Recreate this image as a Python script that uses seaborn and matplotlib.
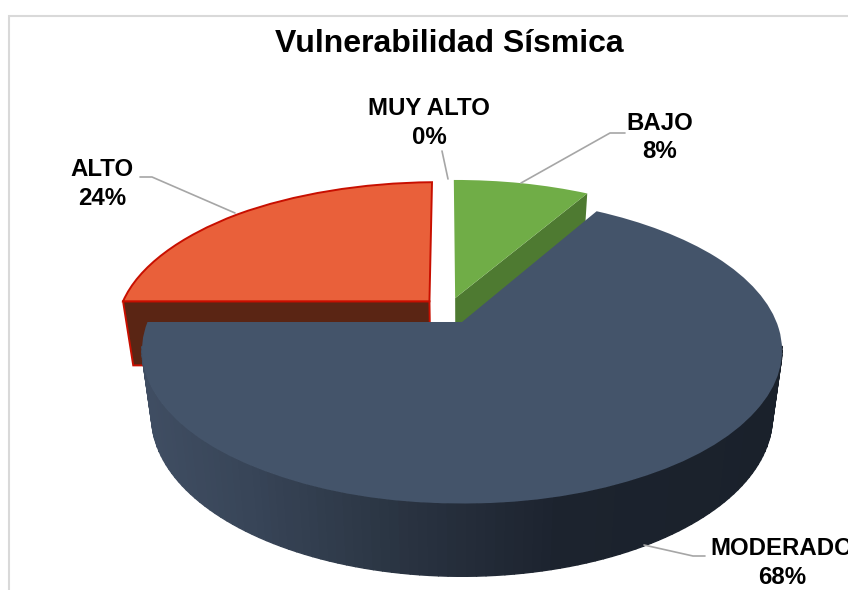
import numpy as np
import matplotlib
matplotlib.use("Agg")
import matplotlib.pyplot as plt
import matplotlib.transforms as mtrans
from matplotlib.collections import PolyCollection
from matplotlib.colors import to_rgb
import seaborn as sns

# ---- data ----
categories = ["BAJO", "MODERADO", "ALTO", "MUY ALTO"]
shares = [8, 68, 24, 0]
share_labels = ["8%", "68%", "24%", "0%"]
title = "Vulnerabilidad Sísmica"

# ---- styles ----
top_colors = ["#70ad47", "#44546a", "#e9603a", "#a5a5a5"]
wall_colors = ["#4e7a31", "#1c232e", "#5a2514", "#a5a5a5"]
edge_red = "#c80f00"
leader_color = "#a6a6a6"
grad_x = [145, 250, 400, 560, 780]
grad_c = ["#404e63", "#384558", "#2a3442", "#1c232e", "#1a212b"]

# ---- view (perspective of the pie disc, in pixel-like axes units) ----
CX, CY, RX, RY, K = 462.0, 322.0, 314.5, 148.0, 0.1842
WARP = np.radians(3.1)
EXPLODE = 0.09
SHRINK = 0.97

sns.set_theme(style="white")
plt.rcParams["font.family"] = ["Liberation Sans", "DejaVu Sans"]

fig = plt.figure(figsize=(8.48, 5.90), dpi=100)
ax = fig.add_axes([0, 0, 1, 1])
wedges, _ = ax.pie(shares, explode=[EXPLODE] * 4, startangle=90.5, counterclock=False,
                   colors=sns.color_palette(top_colors))
ax.set_aspect("auto")
ax.set_xlim(0, 848)
ax.set_ylim(590, 0)
ax.axis("off")

ref_center = np.array(wedges[categories.index("MODERADO")].center)


def project(pts, center):
    """Unit-disc pie coordinates -> picture, for a slice with the given centre."""
    pts = np.asarray(pts, dtype=float)
    d = pts - center
    r = np.hypot(d[:, 0], d[:, 1])
    a = np.arctan2(d[:, 0], d[:, 1])
    a = a + WARP * np.sin(a)
    off = center - ref_center
    u = off[0] + r * np.sin(a)
    v = off[1] + r * np.cos(a)
    w = 1 + K * v
    return np.column_stack([CX + RX * u / w, CY - RY * v / w]), w


def lower(xy, w):
    """Same points on the under side of the disc."""
    depth = 30 + 35 / w
    return np.column_stack([CX + SHRINK * (xy[:, 0] - CX), xy[:, 1] + depth])


class Persp(mtrans.Transform):
    input_dims = output_dims = 2
    is_separable = False
    has_inverse = False

    def __init__(self, center):
        super().__init__()
        self.center = np.array(center, dtype=float)

    def transform_non_affine(self, values):
        return project(values, self.center)[0]


def rim(wedge, n=160):
    th = np.radians(np.linspace(wedge.theta1, wedge.theta2, n))
    c = np.array(wedge.center)
    return c + wedge.r * np.column_stack([np.cos(th), np.sin(th)])


z_of = {"ALTO": 1, "BAJO": 1, "MODERADO": 5, "MUY ALTO": 1}
for i, (wedge, name) in enumerate(zip(wedges, categories)):
    z = z_of[name]
    c = np.array(wedge.center)
    wedge.set_transform(Persp(c) + ax.transData)
    wedge.set_zorder(z + 2)
    if shares[i] == 0:
        wedge.set_visible(False)
        continue
    edge = edge_red if name == "ALTO" else "none"
    wedge.set_edgecolor(edge)
    wedge.set_linewidth(1.4 if name == "ALTO" else 0)

    top, w = project(rim(wedge), c)
    bot = lower(top, w)
    if name == "MODERADO":
        # curved outer wall with its left-to-right shading; only the part facing the viewer
        quads = [np.array([top[j], top[j + 1], bot[j + 1], bot[j]])
                 for j in range(len(top) - 1) if top[j:j + 2, 1].min() > 345]
        xs = np.array([q[:, 0].mean() for q in quads])
        rgb = np.array([to_rgb(s) for s in grad_c])
        cols = np.column_stack([np.interp(xs, grad_x, rgb[:, k]) for k in range(3)])
        ax.add_collection(PolyCollection(quads, facecolors=cols, edgecolors=cols, linewidths=1.0,
                                         zorder=z))
    else:
        # the cut face that looks toward the viewer
        apex, wa = project(c[None, :], c)
        apex_low = lower(apex, wa)
        # BAJO shows its clockwise cut, ALTO its counter-clockwise cut
        j = int(np.argmax(top[:, 0])) if name == "BAJO" else int(np.argmin(top[:, 0]))
        tip = top[j][None, :]
        tip_low = bot[j][None, :]
        face = np.vstack([apex, tip, tip_low, apex_low])
        ax.fill(face[:, 0], face[:, 1], facecolor=wall_colors[i], edgecolor=edge,
                linewidth=1.4 if name == "ALTO" else 0, zorder=z + 1)

# ---- chart frame (top and left only) ----
ax.plot([9, 9, 848], [590, 16, 16], color="#d9d9d9", lw=1.5, zorder=0, solid_joinstyle="miter")

# ---- title and labels ----
ax.text(449, 44, title, ha="center", va="center", fontsize=23, fontweight="bold", color="black")

label_pos = {"BAJO": (660, 137.5), "MODERADO": (782, 563), "ALTO": (102, 184), "MUY ALTO": (429, 123)}
for name, pct in zip(categories, share_labels):
    x, y = label_pos[name]
    ax.text(x, y, f"{name}\n{pct}", ha="center", va="center", fontsize=17.3, fontweight="bold",
            color="black", linespacing=1.3, zorder=10)

leaders = {
    "ALTO": ([140, 152, 235], [177, 177, 213]),
    "MUY ALTO": ([442, 448], [151, 179]),
    "BAJO": ([521, 610, 625], [183, 133, 133]),
    "MODERADO": ([644, 693, 705], [545, 556, 556]),
}
for xs, ys in leaders.values():
    ax.plot(xs, ys, color=leader_color, lw=1.2, zorder=9)

fig.savefig("out.png", dpi=100, facecolor="white")
